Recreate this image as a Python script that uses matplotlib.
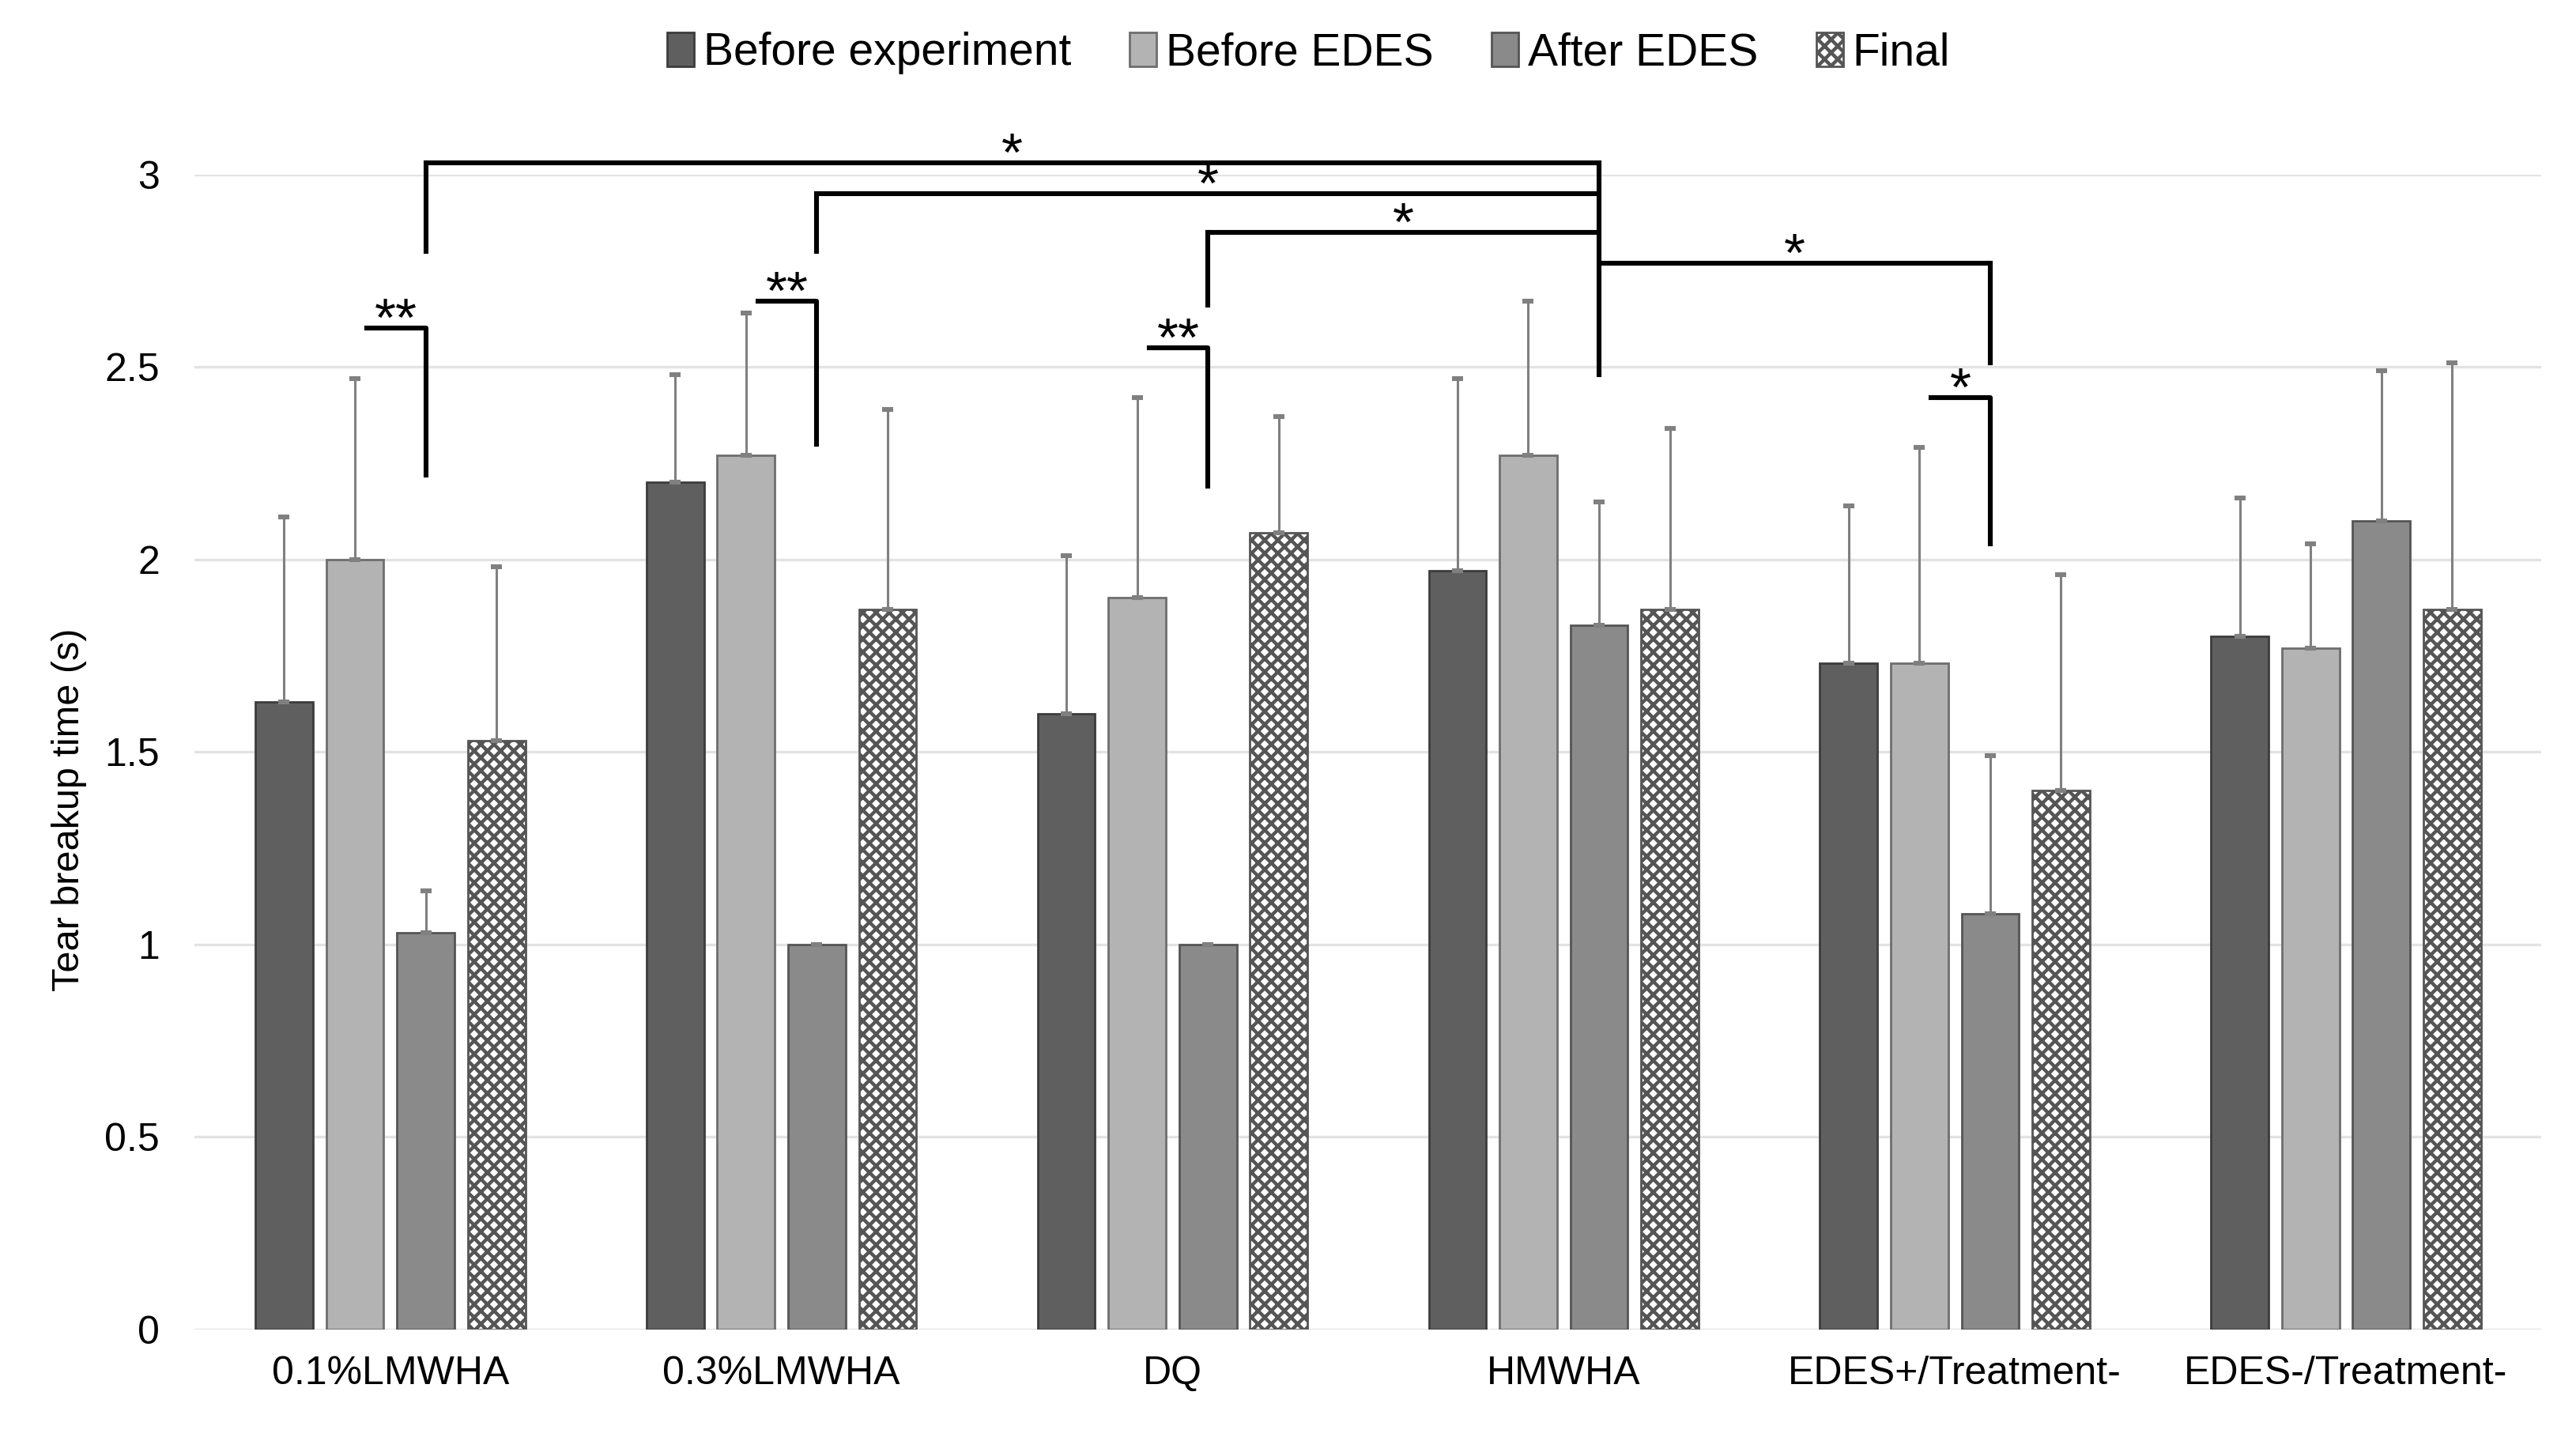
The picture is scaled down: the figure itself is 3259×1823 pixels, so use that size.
import numpy as np
import matplotlib
matplotlib.use("Agg")
import matplotlib.pyplot as plt

plt.rcParams["font.family"] = ["Liberation Sans", "DejaVu Sans"]
plt.rcParams["hatch.linewidth"] = 1.6

# groups and series
groups = ["0.1%LMWHA", "0.3%LMWHA", "DQ", "HMWHA", "EDES+/Treatment-", "EDES-/Treatment-"]
series = ["Before experiment", "Before EDES", "After EDES", "Final"]

# mean values
before_exp = [1.63, 2.20, 1.60, 1.97, 1.73, 1.80]
before_edes = [2.00, 2.27, 1.90, 2.27, 1.73, 1.77]
after_edes = [1.03, 1.00, 1.00, 1.83, 1.08, 2.10]
final = [1.53, 1.87, 2.07, 1.87, 1.40, 1.87]

# top of the error bars
before_exp_top = [2.11, 2.48, 2.01, 2.47, 2.14, 2.16]
before_edes_top = [2.47, 2.64, 2.42, 2.67, 2.29, 2.04]
after_edes_top = [1.14, 1.00, 1.00, 2.15, 1.49, 2.49]
final_top = [1.98, 2.39, 2.37, 2.34, 1.96, 2.51]

means = [before_exp, before_edes, after_edes, final]
tops = [before_exp_top, before_edes_top, after_edes_top, final_top]

fills = ["#5f5f5f", "#b3b3b3", "#8a8a8a", "white"]
edges = ["#3c3c3c", "#6e6e6e", "#555555", "#444444"]
hatches = [None, None, None, "xxxx"]

# significance brackets between "After EDES" bars
long_a = [0, 1, 2, 3]
long_b = [3, 3, 3, 4]
long_y = [3.03, 2.95, 2.85, 2.77]
long_drop_a = [2.80, 2.80, 2.66, None]
long_drop_b = [2.48, None, None, 2.51]
long_label = ["*", "*", "*", "*"]

# within-group brackets: Before EDES -> After EDES
short_g = [0, 1, 2, 4]
short_y = [2.60, 2.67, 2.55, 2.42]
short_drop = [2.22, 2.30, 2.19, 2.04]
short_label = ["**", "**", "**", "*"]

fig = plt.figure(figsize=(3259 / 200, 1823 / 200), dpi=200)
ax = fig.add_axes([0.0756, 0.0773, 0.911, 0.8017])

x = np.arange(len(groups))
step = 0.181
width = 0.147

def bar_x(g, s):
    return g + (s - 1.5) * step

for s in range(4):
    err = np.array(tops[s]) - np.array(means[s])
    ax.bar(x + (s - 1.5) * step, means[s], width, color=fills[s], edgecolor=edges[s],
           linewidth=1.0, hatch=hatches[s], label=series[s], zorder=3)
    if hatches[s]:
        # grey hatch colour
        for p in ax.patches[-len(groups):]:
            p.set_edgecolor("#555555")
    ax.errorbar(x + (s - 1.5) * step, means[s], yerr=[np.zeros(len(groups)), err], fmt="none",
                ecolor="#808080", elinewidth=1.1, capsize=2.5, capthick=2.2, zorder=4)

ax.set_xlim(-0.5, 5.5)
ax.set_ylim(0, 3)
ax.set_yticks([0, 0.5, 1, 1.5, 2, 2.5, 3])
ax.set_yticklabels(["0", "0.5", "1", "1.5", "2", "2.5", "3"])
ax.set_xticks(x)
ax.set_xticklabels(groups)
ax.tick_params(axis="both", length=0, labelsize=18)
ax.tick_params(axis="y", pad=16)
ax.tick_params(axis="x", pad=12)
ax.yaxis.grid(True, color="#e3e3e3", linewidth=1.2, zorder=0)
ax.set_axisbelow(True)
for sp in ax.spines.values():
    sp.set_visible(False)
ax.set_ylabel("Tear breakup time (s)", fontsize=17.5)
ax.yaxis.set_label_coords(-0.046, 0.45)

lw = 2.2
star_size = 25
for a, b, y, da, db, lab in zip(long_a, long_b, long_y, long_drop_a, long_drop_b, long_label):
    xa = bar_x(a, 2)
    xb = bar_x(b, 2)
    ax.plot([xa, xb], [y, y], color="black", lw=lw, clip_on=False, zorder=5,
            solid_capstyle="butt")
    if da is not None:
        ax.plot([xa, xa], [y, da], color="black", lw=lw, clip_on=False, zorder=5)
    if db is not None:
        ax.plot([xb, xb], [y, db], color="black", lw=lw, clip_on=False, zorder=5)
    ax.text((xa + xb) / 2, y - 0.02, lab, ha="center", va="baseline", fontsize=star_size,
            clip_on=False, zorder=6)

for g, y, d, lab in zip(short_g, short_y, short_drop, short_label):
    xa = bar_x(g, 1) + 0.03
    xb = bar_x(g, 2)
    ax.plot([xa, xb, xb], [y, y, d], color="black", lw=lw, clip_on=False, zorder=5)
    ax.text((xa + xb) / 2, y - 0.02, lab, ha="center", va="baseline", fontsize=star_size,
            clip_on=False, zorder=6)

fig.legend(loc="center", bbox_to_anchor=(0.508, 0.963), ncol=4, frameon=False, fontsize=20.5,
           handlelength=0.6, handleheight=0.8, handletextpad=0.2, columnspacing=1.3)

fig.savefig("out.png", dpi=200)
